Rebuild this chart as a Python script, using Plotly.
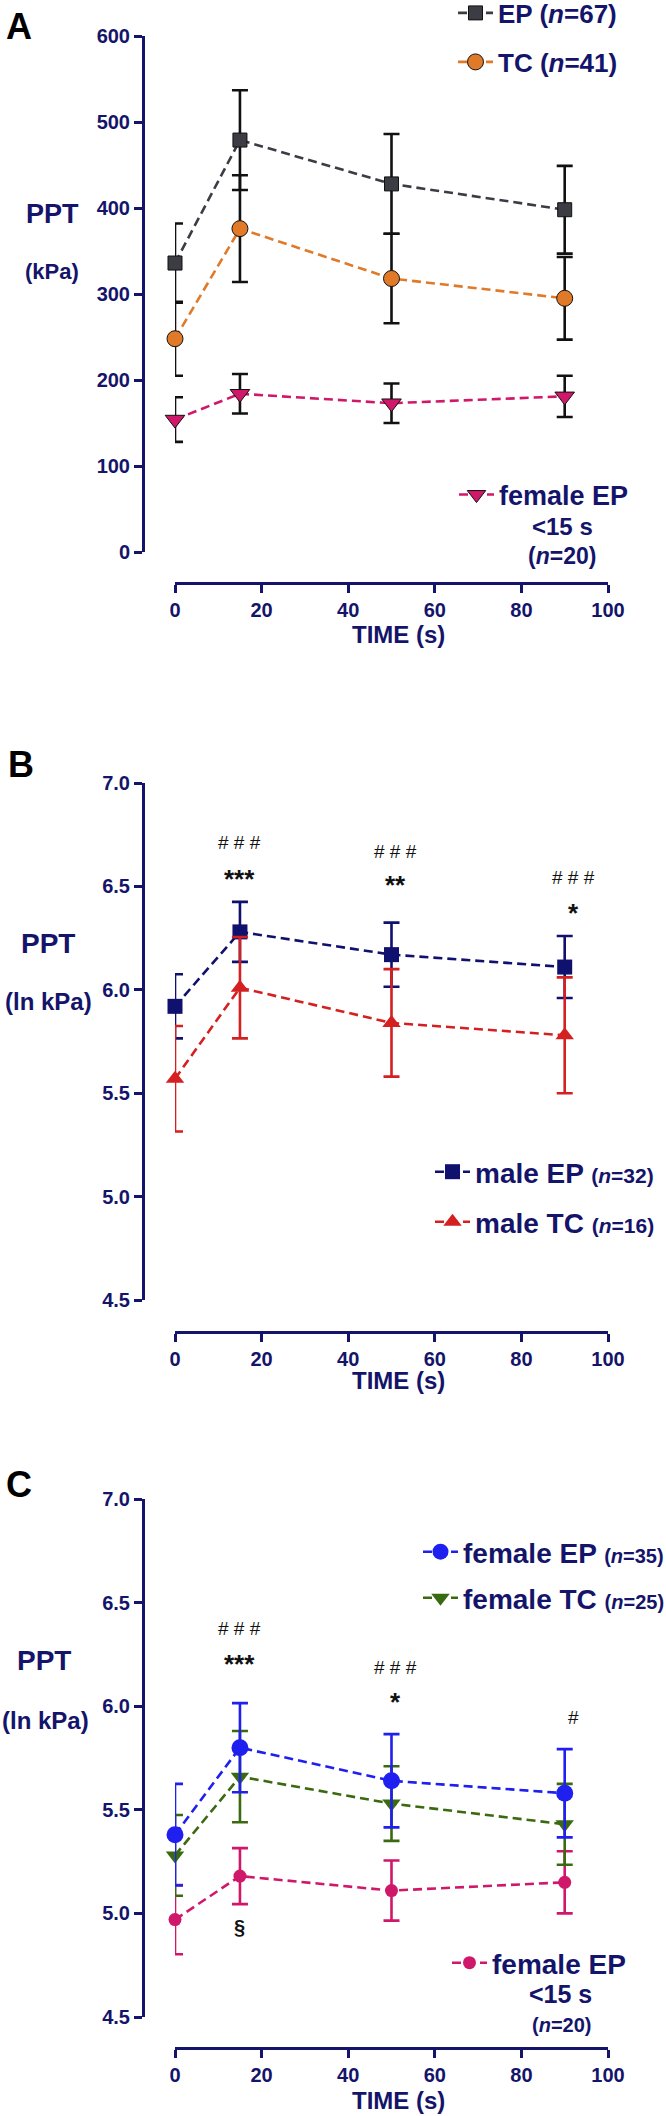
import plotly.graph_objects as go

W, H = 666, 2116

# ---------------- data ----------------
time_s = [0, 15, 50, 90]

# Panel A (kPa)
a_ep_mean = [336, 479, 428, 398]
a_ep_sem = [46, 58, 58, 51]
a_tc_mean = [248, 376, 318, 295]
a_tc_sem = [43, 62, 52, 48]
a_fep_mean = [154, 184, 173, 181]
a_fep_sem = [26, 23, 23, 24]

# Panel B (ln kPa)
b_mep_mean = [5.92, 6.28, 6.17, 6.11]
b_mep_sem = [0.155, 0.145, 0.155, 0.15]
b_mtc_mean = [5.57, 6.01, 5.84, 5.78]
b_mtc_sem = [0.255, 0.245, 0.26, 0.28]

# Panel C (ln kPa)
c_fep_mean = [5.38, 5.80, 5.64, 5.58]
c_fep_sem = [0.245, 0.215, 0.225, 0.213]
c_ftc_mean = [5.28, 5.66, 5.53, 5.43]
c_ftc_sem = [0.195, 0.22, 0.18, 0.195]
c_fep15_mean = [4.97, 5.18, 5.11, 5.15]
c_fep15_sem = [0.167, 0.135, 0.145, 0.15]

# significance marks
b_hash_x = [15, 51, 92]
b_hash_y = [6.71, 6.671, 6.545]
b_hash_text = ["# # #", "# # #", "# # #"]
b_star_x = [15, 51, 92]
b_star_y = [6.536, 6.507, 6.371]
b_star_text = ["***", "**", "*"]
c_hash_x = [15, 51, 92]
c_hash_y = [6.377, 6.188, 5.947]
c_hash_text = ["# # #", "# # #", "#"]
c_star_x = [15, 51]
c_star_y = [6.203, 6.019]
c_star_text = ["***", "*"]
c_sect_x = [15]
c_sect_y = [4.932]
c_sect_text = ["§"]

x_ticks = [0, 20, 40, 60, 80, 100]
a_y_ticks = [0, 100, 200, 300, 400, 500, 600]
bc_y_ticks = [4.5, 5.0, 5.5, 6.0, 6.5, 7.0]

# ---------------- styles ----------------
NAVY = "#14146a"
FONT = "Liberation Sans, Arial, sans-serif"
C_EP = "#3c3c44"
C_TC = "#e07a28"
C_MAG = "#d0186a"
C_MEP = "#10106e"
C_MTC = "#d42020"
C_FEP = "#1f1ff0"
C_FTC = "#3a6a10"
DASH = "9px,5px"


def px_x(p):
    return p / W


def px_y(p):
    return 1 - p / H


fig = go.Figure()


def add_series(x, y, err, name, color, symbol, size, ebar_color, xa, ya, legend,
               outline=None):
    fig.add_trace(go.Scatter(
        x=x, y=y, name=name, mode="lines+markers",
        xaxis=xa, yaxis=ya, legend=legend, cliponaxis=False,
        line=dict(color=color, width=2.6, dash=DASH),
        marker=dict(symbol=symbol, size=size, color=color,
                    line=dict(color=outline if outline else color,
                              width=1 if outline else 0)),
        error_y=dict(type="data", array=err, visible=True, color=ebar_color,
                     thickness=2.6, width=8),
        showlegend=True,
    ))


# Panel A
add_series(time_s, a_ep_mean, a_ep_sem, "EP (<i>n</i>=67)", C_EP, "square", 14,
           "#111111", "x", "y", "legend", outline="#111111")
add_series(time_s, a_tc_mean, a_tc_sem, "TC (<i>n</i>=41)", C_TC, "circle", 16,
           "#111111", "x", "y", "legend2", outline="#111111")
add_series(time_s, a_fep_mean, a_fep_sem, "female EP", C_MAG, "triangle-down", 17,
           "#111111", "x", "y", "legend3", outline="#111111")

# Panel B
add_series(time_s, b_mep_mean, b_mep_sem,
           "male EP <span style='font-size:21px'>(<i>n</i>=32)</span>",
           C_MEP, "square", 15, C_MEP, "x2", "y2", "legend4")
add_series(time_s, b_mtc_mean, b_mtc_sem,
           "male TC <span style='font-size:21px'>(<i>n</i>=16)</span>",
           C_MTC, "triangle-up", 16, C_MTC, "x2", "y2", "legend5")

# Panel C
add_series(time_s, c_fep15_mean, c_fep15_sem, "female EP", C_MAG, "circle", 13,
           C_MAG, "x3", "y3", "legend8")
add_series(time_s, c_ftc_mean, c_ftc_sem,
           "female TC <span style='font-size:20px'>(<i>n</i>=25)</span>",
           C_FTC, "triangle-down", 16, C_FTC, "x3", "y3", "legend7")
add_series(time_s, c_fep_mean, c_fep_sem,
           "female EP <span style='font-size:20px'>(<i>n</i>=35)</span>",
           C_FEP, "circle", 17, C_FEP, "x3", "y3", "legend6")

# ---------------- axes ----------------
axis_common = dict(
    showline=True, linewidth=3, linecolor=NAVY, ticks="outside", ticklen=8,
    tickwidth=3, tickcolor=NAVY, showgrid=False, zeroline=False, fixedrange=True,
    tickfont=dict(family=FONT, size=20, color=NAVY, weight="bold"),
)

x_dom = [px_x(175), px_x(608)]
y_axis_pos = px_x(143)

panels = [
    ("", "", (552, 36), 583, [0, 600], a_y_ticks, [str(v) for v in a_y_ticks]),
    ("2", "2", (1300, 783), 1332, [4.5, 7.0], bc_y_ticks, [f"{v:.1f}" for v in bc_y_ticks]),
    ("3", "3", (2017, 1499), 2048, [4.5, 7.0], bc_y_ticks, [f"{v:.1f}" for v in bc_y_ticks]),
]

layout_axes = {}
for xi, yi, (yb, yt), xline, yr, yt_vals, yt_text in panels:
    layout_axes["xaxis" + xi] = dict(
        axis_common, domain=x_dom, range=[0, 100], anchor="free",
        position=px_y(xline), tickvals=x_ticks,
    )
    layout_axes["yaxis" + yi] = dict(
        axis_common, domain=[px_y(yb), px_y(yt)], range=yr, anchor="free",
        position=y_axis_pos, tickvals=yt_vals, ticktext=yt_text,
    )

# ---------------- legends ----------------
def legend_at(mx, my, size):
    return dict(
        x=px_x(mx - 16), y=px_y(my), xanchor="left", yanchor="middle",
        bgcolor="rgba(0,0,0,0)", borderwidth=0, itemwidth=35,
        font=dict(family=FONT, size=size, color=NAVY, weight="bold"),
        itemclick=False, itemdoubleclick=False,
    )


legends = dict(
    legend=legend_at(469, 13, 26),
    legend2=legend_at(469, 62, 26),
    legend3=legend_at(470, 495, 27),
    legend4=legend_at(446, 1172, 28),
    legend5=legend_at(446, 1222, 28),
    legend6=legend_at(434, 1552, 28),
    legend7=legend_at(434, 1598, 28),
    legend8=legend_at(463, 1963, 28),
)

# ---------------- annotations ----------------
ann = []


def paper_text(text, cx, cy, size, color=NAVY, weight="bold"):
    ann.append(dict(
        text=text, x=px_x(cx), y=px_y(cy), xref="paper", yref="paper",
        xanchor="center", yanchor="middle", showarrow=False,
        font=dict(family=FONT, size=size, color=color, weight=weight),
    ))


# panel letters
paper_text("A", 19, 27, 36, color="#000000")
paper_text("B", 21, 764, 36, color="#000000")
paper_text("C", 19, 1484, 36, color="#000000")

# y-axis labels
paper_text("PPT", 52, 214, 27)
paper_text("(kPa)", 52, 271, 22)
paper_text("PPT", 48, 943, 28)
paper_text("(ln kPa)", 48, 1002, 24)
paper_text("PPT", 44, 1660, 28)
paper_text("(ln kPa)", 45, 1720, 24)

# x-axis titles
paper_text("TIME (s)", 398, 635, 24)
paper_text("TIME (s)", 398, 1380, 24)
paper_text("TIME (s)", 398, 2100, 24)

# multi-line legend continuation
paper_text("&lt;15 s", 562, 526, 24)
paper_text("(<i>n</i>=20)", 562, 556, 23)
paper_text("&lt;15 s", 560, 1994, 25)
paper_text("(<i>n</i>=20)", 561, 2025, 20)


def data_text(xs, ys, texts, xa, ya, size, weight):
    for x, y, t in zip(xs, ys, texts):
        ann.append(dict(
            text=t, x=x, y=y, xref=xa, yref=ya, xanchor="center",
            yanchor="middle", showarrow=False,
            font=dict(family=FONT, size=size, color="#111111", weight=weight),
        ))


data_text(b_hash_x, b_hash_y, b_hash_text, "x2", "y2", 19, "normal")
data_text(b_star_x, b_star_y, b_star_text, "x2", "y2", 26, "bold")
data_text(c_hash_x, c_hash_y, c_hash_text, "x3", "y3", 19, "normal")
data_text(c_star_x, c_star_y, c_star_text, "x3", "y3", 26, "bold")
data_text(c_sect_x, c_sect_y, c_sect_text, "x3", "y3", 20, "bold")

fig.update_layout(
    width=W, height=H, autosize=False,
    margin=dict(l=0, r=0, t=0, b=0, pad=0, autoexpand=False),
    paper_bgcolor="white", plot_bgcolor="white",
    font=dict(family=FONT, color=NAVY),
    annotations=ann,
    **layout_axes,
    **legends,
)

fig.write_html(
    "out.html",
    config={"displayModeBar": False, "staticPlot": False},
    post_script="document.body.style.margin='0';document.body.style.overflow='hidden';",
)
